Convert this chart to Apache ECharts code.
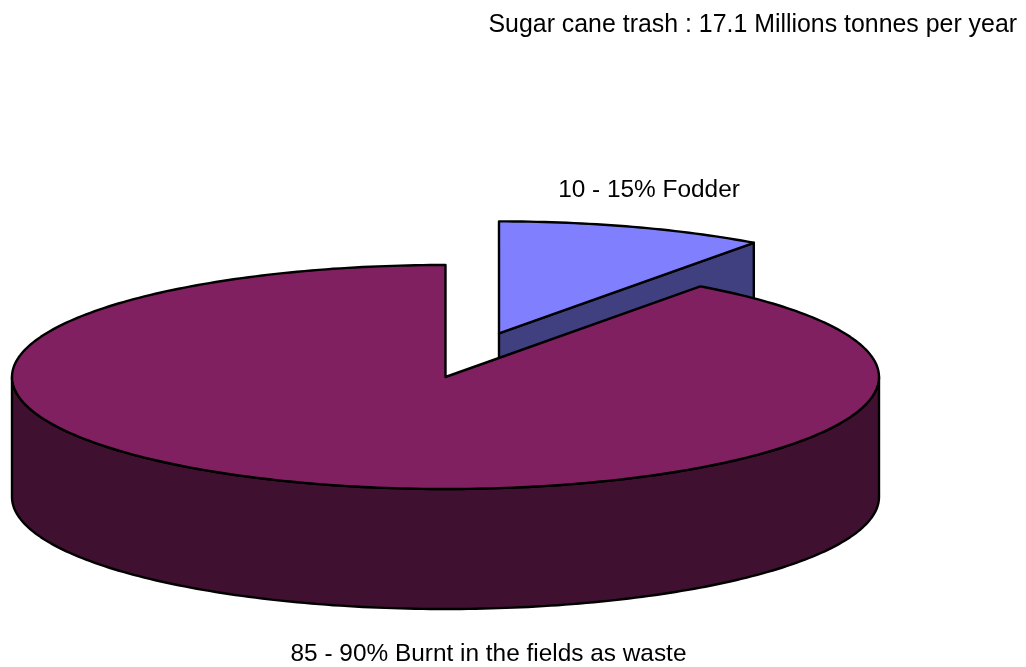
<!DOCTYPE html>
<html>
<head>
<meta charset="utf-8">
<style>html,body{margin:0;padding:0;background:#fff}#c{width:1026px;height:667px}</style>
<script src="https://cdn.jsdelivr.net/npm/echarts@6/dist/echarts.min.js"></script>
</head>
<body>
<div id="c"></div>
<script>
const categories = ['10 - 15% Fodder', '85 - 90% Burnt in the fields as waste'];
const values = [10, 90];
const note = 'Sugar cane trash : 17.1 Millions tonnes per year';

const total = values.reduce((a, b) => a + b, 0);
const CX = 445.5, CY = 377, RX = 433.5, RY = 112, DEPTH = 120;
const looks = [
  { top: '#8080FF', side: '#404080', dx: 53.5, dy: -43.6, lx: 649, ly: 190 },
  { top: '#802060', side: '#401030', dx: 0, dy: 0, lx: 488.5, ly: 654 }
];
const FONT = '"Liberation Sans", Arial, sans-serif';
const LINE = { stroke: '#000', lineWidth: 2.4, lineJoin: 'round' };

function arcPoints(cx, cy, a0, a1) {
  const pts = [], n = Math.max(2, Math.ceil(Math.abs(a1 - a0) * 180 / Math.PI));
  for (let i = 0; i <= n; i++) {
    const a = a0 + (a1 - a0) * i / n;
    pts.push([cx + RX * Math.sin(a), cy - RY * Math.cos(a)]);
  }
  return pts;
}

function renderSlice(params, api) {
  const i = params.dataIndex;
  const look = looks[i];
  let before = 0;
  for (let k = 0; k < i; k++) before += values[k];
  const a0 = before / total * 2 * Math.PI;
  const a1 = (before + api.value(0)) / total * 2 * Math.PI;
  const cx = CX + look.dx, cy = CY + look.dy;
  const children = [];
  // end cut face, visible when it looks toward the viewer
  if (a1 < Math.PI) {
    const e = arcPoints(cx, cy, a1, a1)[0];
    children.push({ type: 'polygon', shape: { points: [[cx, cy], e, [e[0], e[1] + DEPTH], [cx, cy + DEPTH]] },
      style: Object.assign({ fill: look.side }, LINE) });
  }
  // outer front wall
  const w0 = Math.max(a0, Math.PI / 2), w1 = Math.min(a1, 3 * Math.PI / 2);
  if (w1 > w0) {
    const upper = arcPoints(cx, cy, w0, w1);
    const lower = arcPoints(cx, cy + DEPTH, w1, w0);
    children.push({ type: 'polygon', shape: { points: upper.concat(lower) },
      style: Object.assign({ fill: look.side }, LINE) });
  }
  // top face
  children.push({ type: 'polygon', shape: { points: [[cx, cy]].concat(arcPoints(cx, cy, a0, a1)) },
    style: Object.assign({ fill: look.top }, LINE) });
  // label
  children.push({ type: 'text', style: { text: categories[i], x: look.lx, y: look.ly,
    align: 'center', verticalAlign: 'middle', fill: '#000', font: '24.4px ' + FONT } });
  return { type: 'group', children };
}

const chart = echarts.init(document.getElementById('c'), null, { renderer: 'canvas' });
chart.setOption({
  animation: false,
  backgroundColor: '#fff',
  title: { text: note, left: 483.5, top: 8,
    textStyle: { fontFamily: FONT, fontSize: 24.9, fontWeight: 'normal', color: '#000' } },
  series: [{
    type: 'custom',
    coordinateSystem: 'none',
    renderItem: renderSlice,
    data: values.map(v => [v]),
    clip: false,
    silent: true
  }]
});
</script>
</body>
</html>
